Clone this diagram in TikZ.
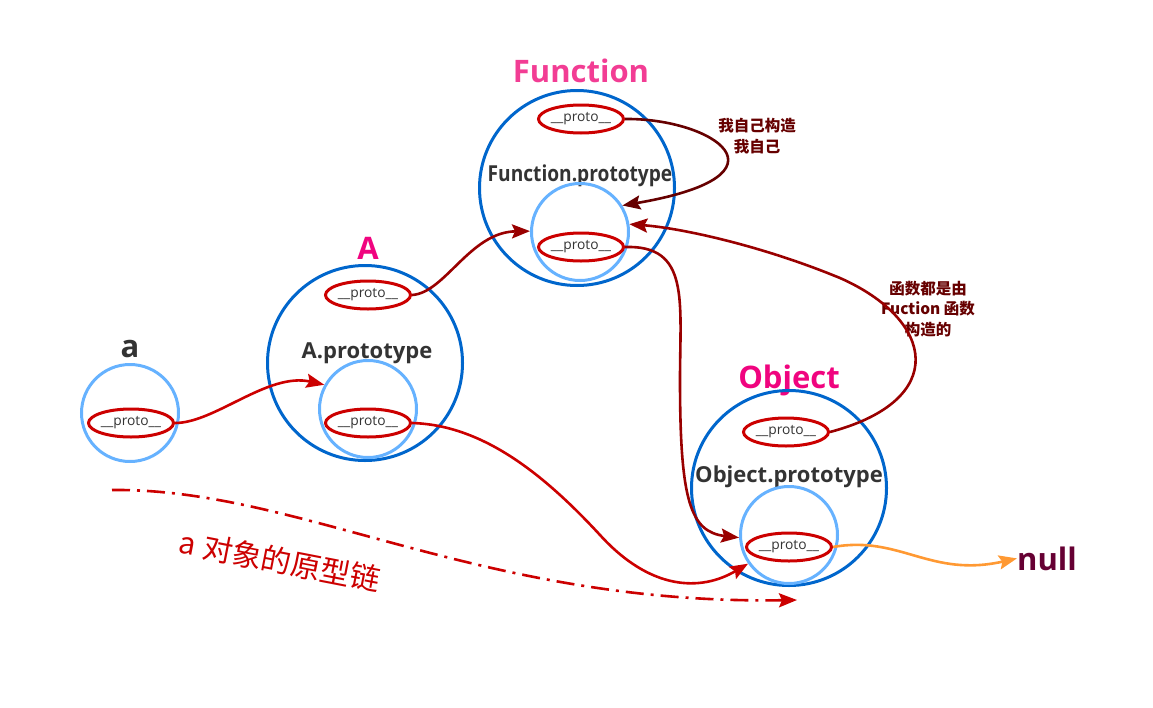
\documentclass[tikz,border=0pt]{standalone}
\usepackage{fontspec}
\setmainfont{Open Sans}
\newfontfamily\cjk{Noto Sans CJK SC}
\usetikzlibrary{shapes.geometric,arrows.meta}
\definecolor{outerblue}{HTML}{0066CC}
\definecolor{innerblue}{HTML}{66B2FF}
\definecolor{protored}{HTML}{CC0000}
\definecolor{darkred}{HTML}{990000}
\definecolor{selfred}{HTML}{660000}
\definecolor{pinkF}{HTML}{F23D94}
\definecolor{pinkA}{HTML}{F0047F}
\definecolor{textgray}{HTML}{333333}
\definecolor{orangeline}{HTML}{FF9933}
\definecolor{nullcol}{HTML}{660033}
\begin{document}
\begin{tikzpicture}[x=1pt,y=-1pt,
  outer/.style={circle, draw=outerblue, line width=3pt, minimum size=195pt, inner sep=0pt},
  inner/.style={circle, draw=innerblue, line width=3pt, minimum size=97pt, inner sep=0pt},
  proto/.style={ellipse, draw=protored, line width=3pt, minimum width=81pt, minimum height=28pt, inner sep=0pt, text=textgray, font=\fontsize{13.8}{15}\selectfont},
  title/.style={font=\bfseries\fontsize{31}{36}\selectfont, anchor=base, inner sep=0pt},
  sub/.style={font=\bfseries\fontsize{22}{26}\selectfont, text=textgray, anchor=base, inner sep=0pt},
  note/.style={font=\cjk\bfseries\fontsize{15.5}{20.5}\selectfont, text=selfred, align=center, inner sep=0pt},
  tip/.style={-{Stealth[length=18pt,width=14pt,inset=3pt]}},
  arr/.style={line width=2.6pt, tip},
]
\useasboundingbox (0,0) rectangle (1153,707);

% a
\node[title, text=textgray] (alab) at (130,357) {a};
\node[inner] (ain) at (130,413) {};
\node[proto] (ap) at (131,423) {\_\_proto\_\_};

% A
\node[title, text=pinkA] (Alab) at (368,259) {A};
\node[outer] (Aout) at (365,363) {};
\node[proto] (Atp) at (368,295) {\_\_proto\_\_};
\node[sub] (Asub) at (367,358) {A.prototype};
\node[inner] (Ain) at (368,409) {};
\node[proto] (Aip) at (368,423) {\_\_proto\_\_};

% Function
\node[title, text=pinkF] (Flab) at (581,82) {Function};
\node[outer] (Fout) at (577,188) {};
\node[proto] (Ftp) at (581,119) {\_\_proto\_\_};
\node[sub] (Fsub) at (580,181) {\scalebox{0.87}[1]{Function.prototype}};
\node[inner] (Fin) at (580,232) {};
\node[proto] (Fip) at (581,247) {\_\_proto\_\_};

% Object
\node[title, text=pinkA] (Olab) at (789,388) {Object};
\node[outer] (Oout) at (789,488) {};
\node[proto] (Otp) at (786,432) {\_\_proto\_\_};
\node[sub] (Osub) at (789,482) {Object.prototype};
\node[inner] (Oin) at (789,535) {};
\node[proto] (Oip) at (789,547) {\_\_proto\_\_};

% null
\node[title, text=nullcol] (null) at (1047,570) {null};

% notes
\node[note] (n1) at (757,136) {我自己构造\\我自己};
\node[note] (n2) at (928,309) {函数都是由\\Fuction 函数\\构造的};

% connectors
\draw[arr, protored] (ap.east) .. controls (215,423) and (268,372) .. (Ain.151);
\draw[arr, darkred] (Atp.east) .. controls (445,293) and (470,232) .. (Fin.179);
\draw[arr, protored] (Aip.east) .. controls (480,425) and (540,470) .. (600,535) .. controls (650,590) and (700,592) .. (Oin.215);
\draw[arr, darkred] (Fip.east) .. controls (690,245) and (680,300) .. (680,380) .. controls (680,500) and (690,532) .. (Oin.183);
\draw[arr, darkred] (Otp.east) .. controls (950,400) and (935,320) .. (840,278) .. controls (760,245) and (680,228) .. (Fin.9);
\draw[arr, selfred] (Ftp.east) .. controls (712,118) and (800,175) .. (Fin.32);
\draw[arr, orangeline] (Oip.east) .. controls (900,535) and (930,578) .. (null.west);

% chain
\coordinate (cs) at (112,490);
\coordinate (ce) at (797,600);
\draw[protored, line width=2.6pt, dash pattern=on 18pt off 7pt on 3pt off 7pt, tip]
  (cs) .. controls (300,488) and (480,605) .. (ce);
\node[font=\cjk\fontsize{30}{32}\selectfont, text=protored, rotate=-11] (chain) at (280,561) {a 对象的原型链};
\end{tikzpicture}
\end{document}
